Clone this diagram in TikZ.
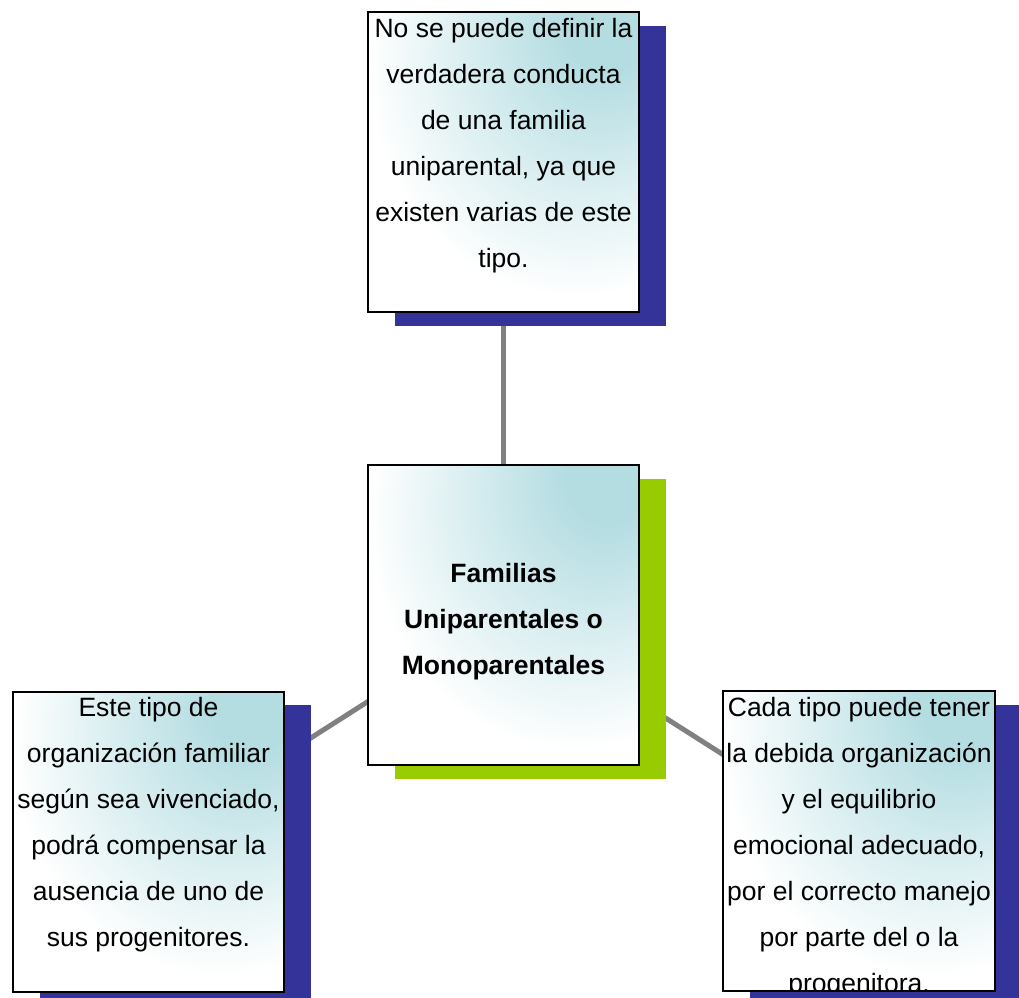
\documentclass[tikz,border=0pt]{standalone}
\usepackage{fontspec}
\setmainfont{Liberation Sans}
\usetikzlibrary{backgrounds}
\definecolor{shblue}{RGB}{51,51,153}
\definecolor{shgreen}{RGB}{153,204,0}
\definecolor{tealc}{RGB}{180,221,226}
\definecolor{linegray}{RGB}{128,128,128}
\pgfdeclareradialshading{boxshade}{\pgfpoint{21bp}{25bp}}{color(0bp)=(tealc); color(8bp)=(tealc); color(38bp)=(white); color(100bp)=(white)}
\begin{document}
\begin{tikzpicture}[x=1pt,y=-1pt,
  card/.style={draw=black, line width=2pt, shade, shading=boxshade, minimum width=271pt, minimum height=300pt, inner sep=0pt, outer sep=0pt},
  txt/.style={font=\fontsize{26.5pt}{46pt}\selectfont, align=center, inner sep=0pt, anchor=north},
  link/.style={draw=linegray, line width=5pt},
]
\useasboundingbox (0,0) rectangle (1019,997);

% boxes
\node[card] (top) at (503.5,162) {};
\node[card] (mid) at (503.5,615) {};
\node[card] (left) at (148.5,841.5) {};
\node[card, minimum width=272pt] (right) at (859,841) {};

% connectors and shadows beneath
\begin{pgfonlayer}{background}
  \draw[link] (mid.center) -- (top.center);
  \draw[link] (mid.center) -- (left.center);
  \draw[link] (mid.center) -- (right.center);
  \fill[shblue] ([shift={(26.5,13.5)}]top.north west) rectangle ([shift={(26.5,13.5)}]top.south east);
  \fill[shgreen] ([shift={(26.5,13.5)}]mid.north west) rectangle ([shift={(26.5,13.5)}]mid.south east);
  \fill[shblue] ([shift={(26.5,13.5)}]left.north west) rectangle ([shift={(26.5,13.5)}]left.south east);
  \fill[shblue] ([shift={(26.5,13.5)}]right.north west) rectangle ([shift={(26.5,13.5)}]right.south east);
\end{pgfonlayer}

% texts
\node[txt] (toptext) at (503.5,4.8) {\strut No se puede definir la\\verdadera conducta\\de una familia\\uniparental, ya que\\existen varias de este\\tipo.};
\node[txt, font=\fontsize{26.5pt}{46pt}\selectfont\bfseries] (midtext) at (503.5,549.8) {\strut Familias\\Uniparentales o\\Monoparentales};
\node[txt] (lefttext) at (148.5,684.3) {\strut Este tipo de\\organización familiar\\según sea vivenciado,\\podrá compensar la\\ausencia de uno de\\sus progenitores.};
\begin{scope}
  \clip ([shift={(1,-1)}]right.south west) rectangle ([shift={(-1,1)}]right.north east);
  \node[txt] (righttext) at (859,683.8) {\strut Cada tipo puede tener\\la debida organización\\y el equilibrio\\emocional adecuado,\\por el correcto manejo\\por parte del o la\\progenitora.};
\end{scope}
\end{tikzpicture}
\end{document}
